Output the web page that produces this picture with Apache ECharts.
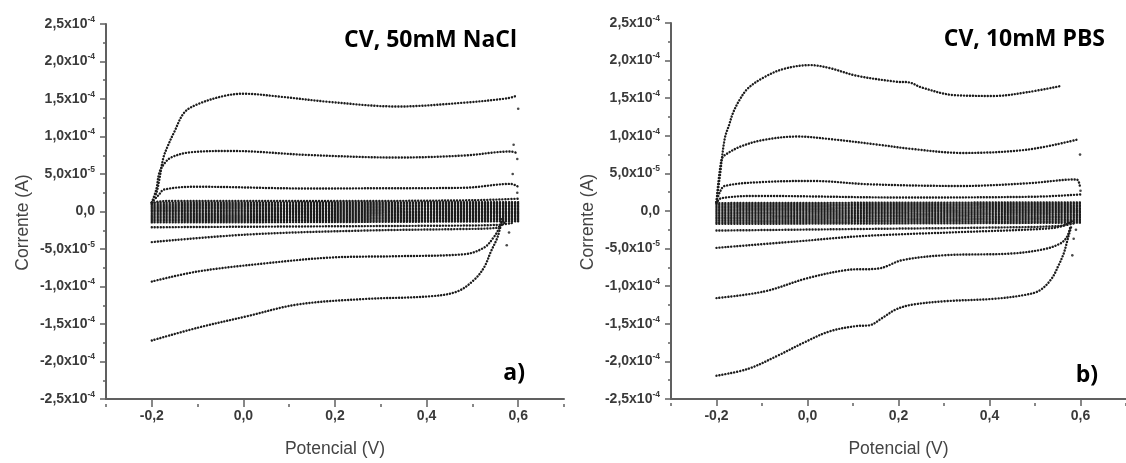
<!DOCTYPE html>
<html>
<head>
<meta charset="utf-8">
<script src="https://cdn.jsdelivr.net/npm/echarts@6/dist/echarts.min.js"></script>
<style>
html,body{margin:0;padding:0;background:#fff;}
#c{width:1126px;height:463px;}
</style>
</head>
<body>
<div id="c"></div>
<script>
// ---------- axis definitions ----------
const xMajorTicks = [-0.2, 0.0, 0.2, 0.4, 0.6];
const xRange = [-0.3, 0.7];
const yRange = [-2.5e-4, 2.5e-4];
const yStep = 5e-5;
const UNIT = 1e-4; // current values below are in units of 1e-4 A

// ---------- panel a) CV, 50mM NaCl : [potential V, current x1e-4 A] ----------
const naclFwd1 = [[-0.2,0.12],[-0.19,0.25],[-0.184,0.41],[-0.175,0.71],[-0.166,0.86],[-0.151,1.06],[-0.129,1.32],[-0.1,1.43],[-0.043,1.54],[0.0,1.57],[0.082,1.53],[0.19,1.46],[0.336,1.40],[0.48,1.45],[0.577,1.51],[0.595,1.54]];
const naclRev1 = [[-0.2,-1.72],[-0.1,-1.55],[0.009,-1.395],[0.118,-1.24],[0.264,-1.167],[0.409,-1.13],[0.467,-1.066],[0.504,-0.91],[0.526,-0.74],[0.54,-0.54],[0.555,-0.34],[0.565,-0.1]];
const naclFwd2 = [[-0.2,0.12],[-0.19,0.3],[-0.184,0.51],[-0.175,0.62],[-0.158,0.72],[-0.115,0.79],[-0.027,0.807],[0.14,0.754],[0.336,0.72],[0.481,0.746],[0.584,0.80],[0.597,0.78]];
const naclRev2 = [[-0.2,-0.934],[-0.1,-0.80],[0.045,-0.693],[0.191,-0.614],[0.336,-0.596],[0.482,-0.57],[0.526,-0.48],[0.547,-0.34],[0.556,-0.25],[0.565,-0.12]];
const naclFwd3 = [[-0.2,0.12],[-0.185,0.22],[-0.173,0.293],[-0.1,0.33],[0.14,0.307],[0.3,0.31],[0.481,0.316],[0.584,0.368],[0.6,0.33]];
const naclRev3 = [[-0.2,-0.408],[0.009,-0.307],[0.264,-0.254],[0.481,-0.233],[0.55,-0.22],[0.57,-0.15]];
const naclFwd4 = [[-0.2,0.1],[-0.19,0.13],[-0.15,0.14],[0.2,0.14],[0.5,0.15],[0.6,0.17]];
const naclRev4 = [[-0.2,-0.21],[0.1,-0.2],[0.4,-0.19],[0.55,-0.18],[0.59,-0.15]];
const naclEdgeDots = [[0.6,1.37],[0.59,0.89],[0.598,0.70],[0.588,0.50],[0.598,0.25],[0.58,-0.28],[0.575,-0.45]];
const naclBandUpper = [
  [[-0.2,0.115],[0.2,0.12],[0.6,0.125]],
  [[-0.2,0.095],[0.2,0.10],[0.6,0.105]],
  [[-0.2,0.075],[0.2,0.08],[0.6,0.085]],
  [[-0.2,0.057],[0.2,0.06],[0.6,0.065]],
  [[-0.2,0.038],[0.2,0.04],[0.6,0.045]],
  [[-0.2,0.018],[0.2,0.02],[0.6,0.025]],
  [[-0.2,0.0],[0.2,0.0],[0.6,0.005]]
];
const naclBandLower = [
  [[-0.2,-0.145],[0.2,-0.14],[0.6,-0.13]],
  [[-0.2,-0.125],[0.2,-0.12],[0.6,-0.11]],
  [[-0.2,-0.105],[0.2,-0.10],[0.6,-0.09]],
  [[-0.2,-0.085],[0.2,-0.08],[0.6,-0.07]],
  [[-0.2,-0.065],[0.2,-0.06],[0.6,-0.05]],
  [[-0.2,-0.045],[0.2,-0.04],[0.6,-0.03]],
  [[-0.2,-0.022],[0.2,-0.02],[0.6,-0.012]]
];

// ---------- panel b) CV, 10mM PBS ----------
const pbsFwd1 = [[-0.2,0.12],[-0.193,0.44],[-0.182,0.96],[-0.172,1.15],[-0.164,1.30],[-0.15,1.47],[-0.131,1.63],[-0.095,1.78],[-0.052,1.89],[0.006,1.94],[0.049,1.90],[0.107,1.80],[0.194,1.72],[0.223,1.71],[0.252,1.64],[0.324,1.54],[0.411,1.53],[0.483,1.58],[0.555,1.66]];
const pbsRev1 = [[-0.2,-2.19],[-0.131,-2.10],[-0.066,-1.925],[-0.008,-1.75],[0.049,-1.60],[0.107,-1.53],[0.136,-1.52],[0.165,-1.42],[0.194,-1.31],[0.23,-1.246],[0.302,-1.20],[0.411,-1.167],[0.483,-1.11],[0.512,-1.05],[0.537,-0.895],[0.552,-0.72],[0.563,-0.566],[0.573,-0.35],[0.58,-0.2]];
const pbsFwd2 = [[-0.2,0.12],[-0.189,0.684],[-0.18,0.75],[-0.146,0.86],[-0.095,0.947],[-0.023,0.99],[0.049,0.957],[0.158,0.88],[0.23,0.825],[0.339,0.772],[0.483,0.816],[0.591,0.947]];
const pbsRev2 = [[-0.2,-1.158],[-0.095,-1.07],[-0.001,-0.895],[0.086,-0.785],[0.158,-0.763],[0.208,-0.654],[0.302,-0.588],[0.447,-0.566],[0.519,-0.509],[0.555,-0.434],[0.57,-0.346],[0.578,-0.2]];
const pbsFwd3 = [[-0.2,0.12],[-0.193,0.246],[-0.182,0.333],[-0.095,0.386],[0.013,0.399],[0.136,0.355],[0.339,0.333],[0.483,0.368],[0.591,0.42],[0.599,0.31]];
const pbsRev3 = [[-0.2,-0.49],[-0.023,-0.404],[0.122,-0.333],[0.339,-0.28],[0.519,-0.237],[0.56,-0.2],[0.585,-0.12]];
const pbsFwd4 = [[-0.2,0.1],[-0.19,0.17],[-0.1,0.2],[0.2,0.18],[0.5,0.19],[0.6,0.22]];
const pbsRev4 = [[-0.2,-0.26],[0.1,-0.24],[0.4,-0.22],[0.55,-0.2],[0.59,-0.16]];
const pbsEdgeDots = [[0.599,0.75],[0.6,0.27],[0.585,-0.37],[0.582,-0.59],[0.59,-0.25]];
const pbsBandUpper = [
  [[-0.2,0.105],[0.2,0.11],[0.6,0.115]],
  [[-0.2,0.085],[0.2,0.09],[0.6,0.095]],
  [[-0.2,0.065],[0.2,0.07],[0.6,0.075]],
  [[-0.2,0.045],[0.2,0.05],[0.6,0.055]],
  [[-0.2,0.025],[0.2,0.03],[0.6,0.035]],
  [[-0.2,0.005],[0.2,0.01],[0.6,0.015]]
];
const pbsBandLower = [
  [[-0.2,-0.17],[0.2,-0.165],[0.6,-0.155]],
  [[-0.2,-0.148],[0.2,-0.143],[0.6,-0.133]],
  [[-0.2,-0.126],[0.2,-0.121],[0.6,-0.111]],
  [[-0.2,-0.104],[0.2,-0.099],[0.6,-0.089]],
  [[-0.2,-0.082],[0.2,-0.077],[0.6,-0.067]],
  [[-0.2,-0.06],[0.2,-0.055],[0.6,-0.045]],
  [[-0.2,-0.038],[0.2,-0.033],[0.6,-0.023]],
  [[-0.2,-0.016],[0.2,-0.012],[0.6,-0.004]]
];

// ---------- build ----------
const DOT = '#1c1c1c';
const AXIS = '#606060';
const LABEL = '#3a3a3a';
const gridRects = [
  {left:106, top:24, width:458, height:380},
  {left:671, top:23, width:461, height:380}
];

function toData(arr){ return arr.map(p => [p[0], p[1]*UNIT]); }
function branch(arr, gi){
  return {
    type:'line', xAxisIndex: gi, yAxisIndex: gi, data: toData(arr),
    smooth: 0.35, symbol:'none', showSymbol:false, silent:true,
    lineStyle:{color:DOT, width:2.4, type:[0.1,2.9], cap:'round'},
    animation:false
  };
}
function dots(arr, gi){
  return {
    type:'scatter', xAxisIndex: gi, yAxisIndex: gi, data: toData(arr),
    symbol:'circle', symbolSize:2.6, itemStyle:{color:DOT}, silent:true, animation:false
  };
}
function fmtX(v){
  return Math.abs(v) < 1e-9 ? '0,0' : v.toFixed(1).replace('.', ',');
}
function fmtY(v){
  if (Math.abs(v) < 1e-12) return '{m|0,0}';
  const a = Math.abs(v);
  const e = Math.floor(Math.log10(a) + 1e-9);
  const m = a / Math.pow(10, e);
  return '{m|' + (v < 0 ? '-' : '') + m.toFixed(1).replace('.', ',') + 'x10}{e|' + e + '}';
}
const labelFont = {color:LABEL, fontFamily:'Liberation Sans, Arial, sans-serif', fontWeight:'bold', fontSize:14};
const nameFont = {color:'#444', fontFamily:'Liberation Sans, Arial, sans-serif', fontSize:17.5};

function xMain(gi){
  return {
    type:'value', gridIndex:gi, position:'bottom', min:xRange[0], max:xRange[1],
    axisLine:{show:true, onZero:false, lineStyle:{color:AXIS, width:2}},
    axisTick:{show:true, length:6, customValues:xMajorTicks, lineStyle:{color:AXIS, width:1.5}},
    axisLabel:Object.assign({customValues:xMajorTicks, margin:10, formatter:fmtX}, labelFont),
    splitLine:{show:false},
    name:'Potencial (V)', nameLocation:'middle', nameGap:41, nameTextStyle:nameFont
  };
}
// minor-tick axis lives on an overlay grid with the same rectangle
function xMinor(gi){
  return {
    type:'value', gridIndex:gi, position:'bottom', min:xRange[0], max:xRange[1], interval:0.1,
    axisLine:{show:false, onZero:false}, axisLabel:{show:false}, splitLine:{show:false},
    axisTick:{show:true, length:3, lineStyle:{color:AXIS, width:1.5}}
  };
}
function yHidden(gi){
  return {type:'value', gridIndex:gi, min:yRange[0], max:yRange[1], show:false};
}
function yAx(gi){
  return {
    type:'value', gridIndex:gi, min:yRange[0], max:yRange[1], interval:yStep,
    axisLine:{show:true, onZero:false, lineStyle:{color:AXIS, width:2}},
    axisTick:{show:true, length:6, lineStyle:{color:AXIS, width:1.5}},
    minorTick:{show:true, splitNumber:2, length:3, lineStyle:{color:AXIS, width:1.5}},
    splitLine:{show:false},
    axisLabel:{margin:11, formatter:fmtY,
      rich:{
        m:Object.assign({}, labelFont),
        e:{color:LABEL, fontFamily:'Liberation Sans, Arial, sans-serif', fontWeight:'bold', fontSize:8.5, verticalAlign:'top', padding:[0,0,9,0]}
      }},
    name:'Corrente (A)', nameLocation:'middle', nameGap:74,
    nameTextStyle:Object.assign({padding:[0,22,0,0]}, nameFont)
  };
}

const series = [];
[[naclFwd1,naclRev1],[naclFwd2,naclRev2],[naclFwd3,naclRev3],[naclFwd4,naclRev4]].forEach(p => { series.push(branch(p[0],0)); series.push(branch(p[1],0)); });
naclBandUpper.concat(naclBandLower).forEach(b => series.push(branch(b,0)));
series.push(dots(naclEdgeDots,0));
[[pbsFwd1,pbsRev1],[pbsFwd2,pbsRev2],[pbsFwd3,pbsRev3],[pbsFwd4,pbsRev4]].forEach(p => { series.push(branch(p[0],1)); series.push(branch(p[1],1)); });
pbsBandUpper.concat(pbsBandLower).forEach(b => series.push(branch(b,1)));
series.push(dots(pbsEdgeDots,1));

const titleFont = {fontFamily:'Open Sans, sans-serif', fontWeight:'bold', fill:'#000'};
const chart = echarts.init(document.getElementById('c'), null, {renderer:'canvas'});
chart.setOption({
  backgroundColor:'#fff',
  animation:false,
  grid:[gridRects[0], gridRects[1], Object.assign({}, gridRects[0]), Object.assign({}, gridRects[1])],
  xAxis:[xMain(0), xMain(1), xMinor(2), xMinor(3)],
  yAxis:[yAx(0), yAx(1), yHidden(2), yHidden(3)],
  series: series,
  graphic:[
    {type:'text', right:1126-517, top:29, style:Object.assign({text:'CV, 50mM NaCl', fontSize:23}, titleFont)},
    {type:'text', right:1126-1105, top:28, style:Object.assign({text:'CV, 10mM PBS', fontSize:23}, titleFont)},
    {type:'text', right:1126-525, top:362, style:Object.assign({text:'a)', fontSize:23}, titleFont)},
    {type:'text', right:1126-1098, top:364, style:Object.assign({text:'b)', fontSize:23}, titleFont)}
  ]
});
</script>
</body>
</html>
